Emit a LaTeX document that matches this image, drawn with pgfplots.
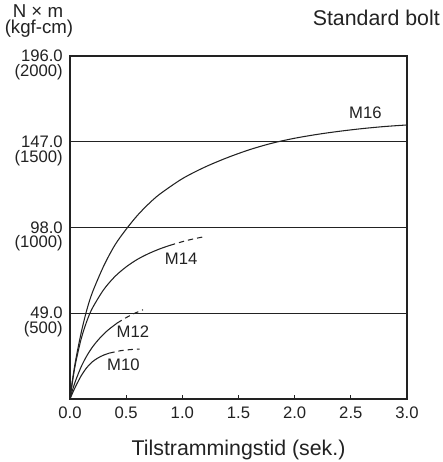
\documentclass[border=0pt]{standalone}
\usepackage{pgfplots}
\pgfplotsset{compat=1.18}
\usepackage{fontspec}
\setmainfont{Liberation Sans}
\definecolor{ink}{HTML}{222222}
\begin{document}
\begin{tikzpicture}
\begin{axis}[at={(0pt,0pt)}, anchor=south west, scale only axis,
  width=252.75pt, height=257.25pt,
  xmin=0, xmax=3, ymin=0, ymax=196,
  axis line style={draw=ink, line width=1pt},
  xtick={0,0.5,1,1.5,2,2.5,3},
  xticklabels={0.0,0.5,1.0,1.5,2.0,2.5,3.0},
  xtick pos=bottom, ytick pos=left, tick align=inside,
  major tick length=3pt,
  xtick style={draw=ink, line width=0.8pt},
  ytick={49,98,147,196},
  yticklabels={{49.0\llap{\raisebox{-11pt}{(500)}}},{98.0\llap{\raisebox{-11pt}{(1000)}}},{147.0\llap{\raisebox{-11pt}{(1500)}}},{196.0\llap{\raisebox{-11pt}{(2000)}}}},
  ytick style={draw=none},
  ymajorgrids, grid style={draw=ink, line width=1pt},
  xticklabel style={font=\fontsize{12.5}{15}\selectfont, text=ink, anchor=base, inner sep=0pt, yshift=-14.25pt},
  yticklabel style={font=\fontsize{12.5}{15}\selectfont, text=ink, anchor=base east, inner sep=0pt, xshift=-5.25pt, yshift=-4.2pt},
  clip=false]
\addplot[ink, line width=0.8pt, smooth] coordinates {(0,0)(0.02,10)(0.05,22)(0.1,38)(0.15,51)(0.2,61)(0.3,76)(0.4,88)(0.5,97)(0.6,104.9)(0.7,111.5)(0.8,117.1)(1.0,125.9)(1.2,132.5)(1.4,137.9)(1.6,142.5)(1.8,146.2)(2.0,149)(2.2,151.2)(2.4,153)(2.6,154.5)(2.8,155.7)(3.0,156.6)};
\addplot[ink, line width=0.8pt, smooth] coordinates {(0,0)(0.02,9)(0.05,20.5)(0.1,34.5)(0.15,44.5)(0.2,52)(0.3,62.5)(0.4,70)(0.5,75.5)(0.6,79.8)(0.7,83.1)(0.8,85.8)(0.89,87.8)};
\addplot[ink, line width=0.8pt, smooth, dash pattern=on 4pt off 3pt] coordinates {(0.89,87.8)(1.0,89.9)(1.1,91.5)(1.2,92.8)};
\addplot[ink, line width=0.8pt, smooth] coordinates {(0,0)(0.02,4.6)(0.05,10.5)(0.1,18.5)(0.15,24.7)(0.2,29.7)(0.25,33.7)(0.3,37.1)(0.35,40)(0.42,43.4)};
\addplot[ink, line width=0.8pt, smooth, dash pattern=on 4pt off 3pt] coordinates {(0.42,43.4)(0.5,46.5)(0.58,49.1)(0.65,51)};
\addplot[ink, line width=0.8pt, smooth] coordinates {(0,0)(0.02,3)(0.05,7.2)(0.1,13.3)(0.15,18)(0.2,21.3)(0.25,23.5)(0.3,25.1)(0.35,26.2)};
\addplot[ink, line width=0.8pt, smooth, dash pattern=on 4pt off 3pt] coordinates {(0.35,26.2)(0.45,27.6)(0.55,28.3)(0.62,28.5)};
\node[font=\fontsize{12.5}{15}\selectfont, text=ink] at (axis cs:2.63,163.5) {M16};
\node[font=\fontsize{12.5}{15}\selectfont, text=ink] at (axis cs:0.99,80.4) {M14};
\node[font=\fontsize{12.5}{15}\selectfont, text=ink] at (axis cs:0.56,38.5) {M12};
\node[font=\fontsize{12.5}{15}\selectfont, text=ink] at (axis cs:0.475,19.4) {M10};
\end{axis}
\node[anchor=base east, inner sep=0pt, text=ink, font=\fontsize{16}{19}\selectfont] at (277.5pt,280.5pt) {Standard bolt};
\node[anchor=base, inner sep=0pt, text=ink, font=\fontsize{14}{17}\selectfont] at (-24pt,286.5pt) {N × m};
\node[anchor=base, inner sep=0pt, text=ink, font=\fontsize{14}{17}\selectfont] at (-23.25pt,273.8pt) {(kgf-cm)};
\node[anchor=base, inner sep=0pt, text=ink, font=\fontsize{16}{19}\selectfont] at (126.4pt,-42pt) {Tilstrammingstid (sek.)};
\pgfresetboundingbox
\path[use as bounding box] (-52.5pt,-47.25pt) rectangle (279.75pt,299.25pt);
\end{tikzpicture}
\end{document}
